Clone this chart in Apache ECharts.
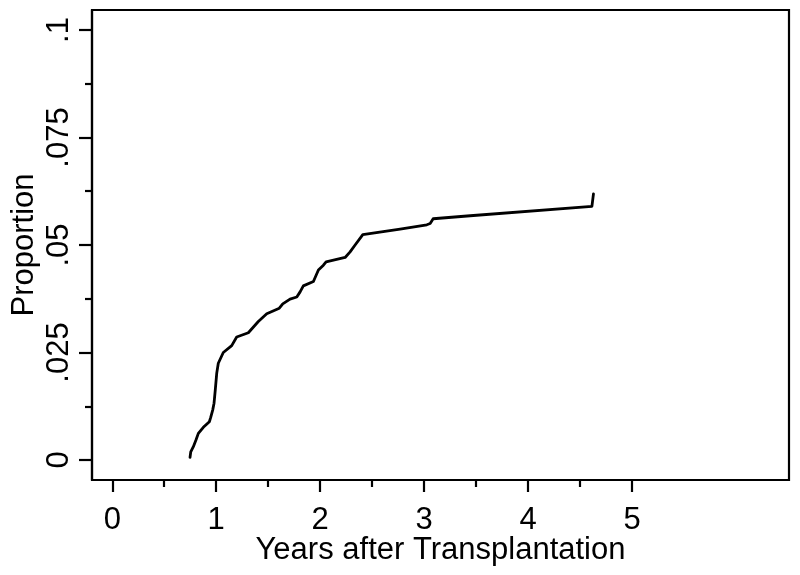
<!DOCTYPE html>
<html>
<head>
<meta charset="utf-8">
<script src="https://cdn.jsdelivr.net/npm/echarts@6/dist/echarts.min.js"></script>
<style>html,body{margin:0;padding:0;background:#fff}#c{width:800px;height:575px}</style>
</head>
<body>
<div id="c"></div>
<script>
const years = [0.748,0.755,0.780,0.806,0.828,0.876,0.934,0.947,0.966,0.979,0.991,1.005,1.020,1.068,1.149,1.197,1.309,1.405,1.486,1.607,1.640,1.710,1.775,1.807,1.838,1.935,1.983,2.031,2.057,2.240,2.288,2.336,2.410,2.769,3.026,3.058,3.087,3.443,4.614,4.629];
const proportion = [0.0006,0.0019,0.0031,0.0047,0.0062,0.0076,0.0089,0.0099,0.0116,0.0132,0.0163,0.0202,0.0225,0.0250,0.0266,0.0286,0.0296,0.0322,0.0340,0.0353,0.0363,0.0374,0.0379,0.0391,0.0405,0.0415,0.0442,0.0453,0.0461,0.0471,0.0484,0.0500,0.0524,0.0537,0.0547,0.0550,0.0561,0.0568,0.0590,0.0619];
const xMajorTicks = [0,1,2,3,4,5];
const xMinorTicks = [0.5,1.5,2.5,3.5,4.5];
const yMajorTicks = [0,0.025,0.05,0.075,0.1];
const yTickLabels = ['0','.025','.05','.075','.1'];
const yMinorTicks = [0.0125,0.0375,0.0625,0.0875];
const xTitle = 'Years after Transplantation';
const yTitle = 'Proportion';

const FONT = '"Liberation Sans", Arial, Helvetica, sans-serif';
const xMin = -0.195, xMax = 6.51, yMin = -0.00465, yMax = 0.10465;
const lineStyle = {color:'#000', width:2.2};

const chart = echarts.init(document.getElementById('c'), null, {renderer:'canvas'});
chart.setOption({
  animation:false,
  backgroundColor:'#fff',
  grid:{left:92, right:11, top:10, bottom:95, containLabel:false, outerBoundsMode:'none',
    show:true, borderColor:'#000', borderWidth:2.2, backgroundColor:'transparent'},
  xAxis:[{
    type:'value', min:xMin, max:xMax, position:'bottom',
    axisLine:{show:true, onZero:false, lineStyle},
    axisTick:{show:true, length:12, lineStyle, customValues:xMajorTicks},
    axisLabel:{show:true, customValues:xMajorTicks, fontFamily:FONT, fontSize:31, color:'#000', margin:25,
      formatter:v=>String(v)},
    splitLine:{show:false},
    name:xTitle, nameLocation:'middle', nameGap:55, nameMoveOverlap:false,
    nameTextStyle:{fontFamily:FONT, fontSize:31, color:'#000'}
  },{
    type:'value', min:xMin, max:xMax, position:'bottom',
    axisLine:{show:false, onZero:false},
    axisTick:{show:true, length:7, lineStyle, customValues:xMinorTicks},
    axisLabel:{show:false},
    splitLine:{show:false}
  }],
  yAxis:[{
    type:'value', min:yMin, max:yMax, position:'left',
    axisLine:{show:true, onZero:false, lineStyle},
    axisTick:{show:true, length:13, lineStyle, customValues:yMajorTicks},
    axisLabel:{show:true, customValues:yMajorTicks, rotate:90, fontFamily:FONT, fontSize:31, color:'#000', margin:17,
      formatter:v=>{const i=yMajorTicks.findIndex(t=>Math.abs(t-v)<1e-9); return i>=0?yTickLabels[i]:'';}},
    splitLine:{show:false},
    name:yTitle, nameLocation:'middle', nameGap:52, nameRotate:90, nameMoveOverlap:false,
    nameTextStyle:{fontFamily:FONT, fontSize:31, color:'#000'}
  },{
    type:'value', min:yMin, max:yMax, position:'left',
    axisLine:{show:false, onZero:false},
    axisTick:{show:true, length:7, lineStyle, customValues:yMinorTicks},
    axisLabel:{show:false},
    splitLine:{show:false}
  }],
  series:[{
    type:'line', xAxisIndex:0, yAxisIndex:0,
    data: years.map((x,i)=>[x, proportion[i]]),
    showSymbol:false, symbol:'none',
    lineStyle:{color:'#000', width:2.8, join:'round', cap:'round'},
    smooth:false
  }]
});
</script>
</body>
</html>
